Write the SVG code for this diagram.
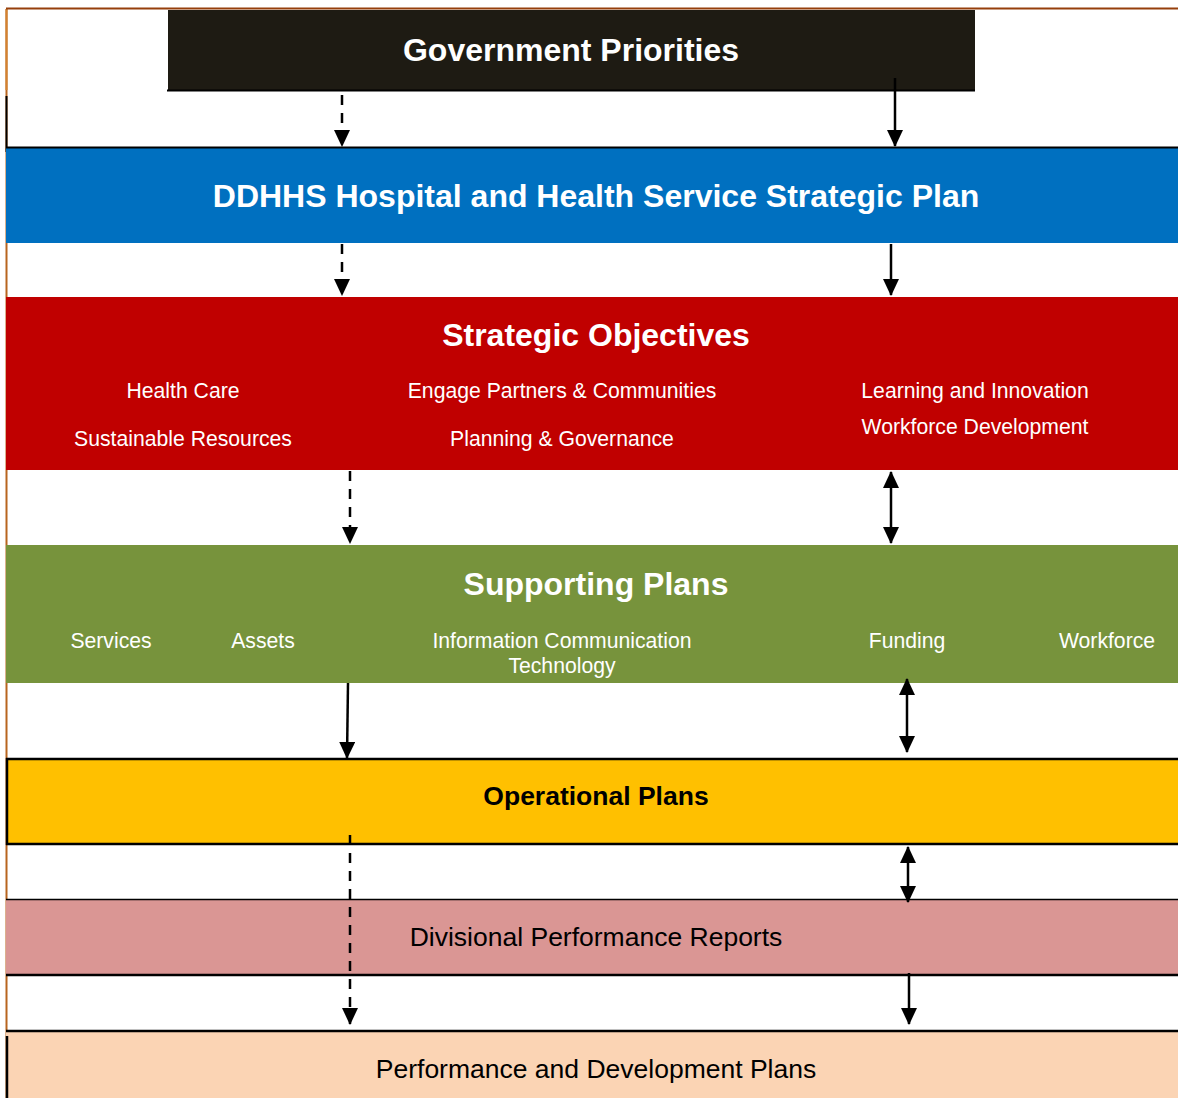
<svg xmlns="http://www.w3.org/2000/svg" width="1178" height="1098" viewBox="0 0 1178 1098">
  <defs>
    <marker id="head" viewBox="0 0 17 16" markerUnits="userSpaceOnUse" markerWidth="17" markerHeight="16" refX="16" refY="8" orient="auto-start-reverse">
      <path d="M0,0 L17,8 L0,16 z" fill="#000"/>
    </marker>
    <style>
      .title { font-family: "Liberation Sans", Arial, sans-serif; font-weight: bold; font-size: 32px; fill: #fff; text-anchor: middle; }
      .item { font-family: "Liberation Sans", Arial, sans-serif; font-size: 21.2px; fill: #fff; text-anchor: middle; }
      .dark { font-family: "Liberation Sans", Arial, sans-serif; font-size: 26.5px; fill: #000; text-anchor: middle; }
      .edge { fill: none; stroke: #000; stroke-width: 2.5; }
      .solid { marker-end: url(#head); }
      .dashed { stroke-dasharray: 10 8; marker-end: url(#head); }
      .both { marker-start: url(#head); marker-end: url(#head); }
      .rule { stroke: #000; stroke-width: 2.5; }
    </style>
  </defs>

  <rect width="1178" height="1098" fill="#fff"/>

  <!-- page frame -->
  <g id="frame">
    <line x1="6.5" y1="9" x2="6.5" y2="1098" stroke="#b8651f" stroke-width="2"/>
    <line x1="6.5" y1="9" x2="6.5" y2="90" stroke="#d4822f" stroke-width="2"/>
    <line x1="6" y1="8.5" x2="1178" y2="8.5" stroke="#953f0b" stroke-width="2"/>
    <line x1="6.5" y1="96" x2="6.5" y2="152" stroke="#000" stroke-width="2"/>
  </g>

  <g id="government-priorities">
    <rect x="168" y="10" width="807" height="81" fill="#1e1b13"/>
    <line x1="167" y1="90.5" x2="975" y2="90.5" stroke="#000" stroke-width="2"/>
    <text class="title" x="571" y="61">Government Priorities</text>
  </g>

  <g id="strategic-plan">
    <rect x="6" y="147" width="1172" height="96" fill="#0070c0"/>
    <line x1="6" y1="147.5" x2="1178" y2="147.5" stroke="#000" stroke-width="2"/>
    <text class="title" x="596" y="207">DDHHS Hospital and Health Service Strategic Plan</text>
  </g>

  <g id="strategic-objectives">
    <rect x="6" y="297" width="1172" height="173" fill="#c00000"/>
    <text class="title" x="596" y="346">Strategic Objectives</text>
    <text class="item" x="183" y="398">Health Care</text>
    <text class="item" x="562" y="398">Engage Partners &amp; Communities</text>
    <text class="item" x="975" y="398">Learning and Innovation</text>
    <text class="item" x="183" y="446">Sustainable Resources</text>
    <text class="item" x="562" y="446">Planning &amp; Governance</text>
    <text class="item" x="975" y="434">Workforce Development</text>
  </g>

  <g id="supporting-plans">
    <rect x="6" y="545" width="1172" height="138" fill="#77933c"/>
    <text class="title" x="596" y="595">Supporting Plans</text>
    <text class="item" x="111" y="648">Services</text>
    <text class="item" x="263" y="648">Assets</text>
    <text class="item" x="562" y="648">Information Communication</text>
    <text class="item" x="562" y="673">Technology</text>
    <text class="item" x="907" y="648">Funding</text>
    <text class="item" x="1107" y="648">Workforce</text>
  </g>

  <g id="operational-plans">
    <rect x="6" y="759" width="1172" height="85" fill="#ffc000"/>
    <line x1="6" y1="759" x2="1178" y2="759" class="rule"/>
    <line x1="6" y1="844" x2="1178" y2="844" class="rule"/>
    <line x1="7" y1="758" x2="7" y2="845" class="rule"/>
    <text class="dark" x="596" y="805" font-weight="bold">Operational Plans</text>
  </g>

  <g id="divisional-reports">
    <rect x="6" y="899" width="1172" height="76" fill="#da9694"/>
    <line x1="6" y1="899.5" x2="1178" y2="899.5" stroke="#000" stroke-width="1.5"/>
    <line x1="6" y1="975" x2="1178" y2="975" class="rule"/>
    <text class="dark" x="596" y="946">Divisional Performance Reports</text>
  </g>

  <g id="development-plans">
    <rect x="6" y="1031" width="1172" height="67" fill="#fbd4b4"/>
    <line x1="6" y1="1031" x2="1178" y2="1031" class="rule"/>
    <line x1="7" y1="1036" x2="7" y2="1098" class="rule"/>
    <text class="dark" x="596" y="1078">Performance and Development Plans</text>
  </g>

  <g id="connectors">
    <line class="edge dashed" x1="342" y1="95" x2="342" y2="146"/>
    <line class="edge solid" x1="895" y1="78" x2="895" y2="146"/>
    <line class="edge dashed" x1="342" y1="244" x2="342" y2="295"/>
    <line class="edge solid" x1="891" y1="244" x2="891" y2="295"/>
    <line class="edge dashed" x1="350" y1="471" x2="350" y2="543"/>
    <line class="edge both" x1="891" y1="472" x2="891" y2="543"/>
    <line class="edge solid" x1="348" y1="683" x2="347" y2="758"/>
    <line class="edge both" x1="907" y1="679" x2="907" y2="752"/>
    <line class="edge both" x1="908" y1="847" x2="908" y2="902"/>
    <line class="edge dashed" x1="350" y1="835" x2="350" y2="1024"/>
    <line class="edge solid" x1="909" y1="973" x2="909" y2="1024"/>
  </g>
</svg>
